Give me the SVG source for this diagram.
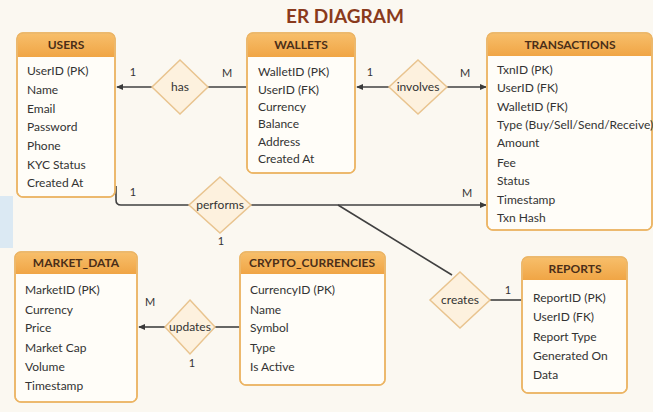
<svg xmlns="http://www.w3.org/2000/svg" width="653" height="412" viewBox="0 0 653 412">
<defs>
<linearGradient id="hg" x1="0" y1="0" x2="0" y2="1"><stop offset="0" stop-color="#f7be6a"/><stop offset="1" stop-color="#f0a545"/></linearGradient>
<marker id="ar" viewBox="0 0 8 8" refX="7" refY="4" markerWidth="7" markerHeight="7" orient="auto-start-reverse" markerUnits="userSpaceOnUse"><path d="M0,0.5 L8,4 L0,7.5 Z" fill="#3a3a3a"/></marker>
</defs>
<style>
.box{fill:#fffdf8;stroke:#ecb565;stroke-width:1.5}
.hdr{fill:url(#hg)}
.ht{font-family:Lato,'Liberation Sans',sans-serif;font-weight:bold;font-size:12px;fill:#4a2e18;text-anchor:middle}
.t{font-family:Lato,'Liberation Sans',sans-serif;font-size:12px;fill:#333}
.dia{fill:#fdf1de;stroke:#e9c48f;stroke-width:1.5}
.dt{font-family:Lato,'Liberation Sans',sans-serif;font-size:12px;fill:#333;text-anchor:middle}
.ln{fill:none;stroke:#404040;stroke-width:1.6}
.lb{font-family:Lato,'Liberation Sans',sans-serif;font-size:11px;fill:#333;text-anchor:middle}
</style>
<rect width="653" height="412" fill="#fbf8f1"/>
<rect x="0" y="196" width="13" height="52" fill="#dbe9f3"/>
<text x="345" y="23" font-family="Lato,'Liberation Sans',sans-serif" font-weight="bold" font-size="19" fill="#8a3a1c" text-anchor="middle">ER DIAGRAM</text>

<g id="connectors">
<path class="ln" d="M152,87 H117" marker-end="url(#ar)"/>
<path class="ln" d="M208,87 H247"/>
<path class="ln" d="M390,87 H357" marker-end="url(#ar)"/>
<path class="ln" d="M447,87 H486" marker-end="url(#ar)"/>
<path class="ln" d="M116,186 V200 Q116,205 121,205 H190"/>
<path class="ln" d="M250,205 H486" marker-end="url(#ar)"/>
<path class="ln" d="M338,205 L452,275"/>
<path class="ln" d="M490,300 H522"/>
<path class="ln" d="M165,327 H139" marker-end="url(#ar)"/>
<path class="ln" d="M215,327 H240"/>
<text class="lb" x="133" y="76">1</text>
<text class="lb" x="227" y="77">M</text>
<text class="lb" x="370" y="76">1</text>
<text class="lb" x="465" y="77">M</text>
<text class="lb" x="133" y="196">1</text>
<text class="lb" x="467" y="197">M</text>
<text class="lb" x="221" y="245">1</text>
<text class="lb" x="508" y="294">1</text>
<text class="lb" x="150" y="306">M</text>
<text class="lb" x="192" y="367">1</text>
</g>

<g id="has"><path class="dia" d="M180,60 L208,87 L180,114 L152,87 Z"/><text class="dt" x="180" y="91">has</text></g>
<g id="involves"><path class="dia" d="M418,60 L447,87 L418,114 L389,87 Z"/><text class="dt" x="418" y="91">involves</text></g>
<g id="performs"><path class="dia" d="M220,177 L251,205 L220,233 L189,205 Z"/><text class="dt" x="220" y="209">performs</text></g>
<g id="creates"><path class="dia" d="M460,272 L490,300 L460,328 L430,300 Z"/><text class="dt" x="460" y="304">creates</text></g>
<g id="updates"><path class="dia" d="M190,300 L215,327 L190,354 L165,327 Z"/><text class="dt" x="190" y="331">updates</text></g>

<g id="users">
<rect class="box" x="17" y="33" width="98" height="164" rx="6"/>
<path class="hdr" d="M17.75,57 V39 Q17.75,33.75 23,33.75 H109 Q114.25,33.75 114.25,39 V57 Z"/>
<rect class="box" x="17" y="33" width="98" height="164" rx="6" fill="none" style="fill:none"/>
<text class="ht" x="66" y="49">USERS</text>
<text class="t" x="27" y="75">UserID (PK)</text>
<text class="t" x="27" y="94">Name</text>
<text class="t" x="27" y="113">Email</text>
<text class="t" x="27" y="131">Password</text>
<text class="t" x="27" y="150">Phone</text>
<text class="t" x="27" y="169">KYC Status</text>
<text class="t" x="27" y="187">Created At</text>
</g>

<g id="wallets">
<rect class="box" x="247" y="33" width="108" height="140" rx="6"/>
<path class="hdr" d="M247.75,57 V39 Q247.75,33.75 253,33.75 H349 Q354.25,33.75 354.25,39 V57 Z"/>
<rect class="box" x="247" y="33" width="108" height="140" rx="6" style="fill:none"/>
<text class="ht" x="301" y="49">WALLETS</text>
<text class="t" x="258" y="76">WalletID (PK)</text>
<text class="t" x="258" y="94">UserID (FK)</text>
<text class="t" x="258" y="111">Currency</text>
<text class="t" x="258" y="128">Balance</text>
<text class="t" x="258" y="146">Address</text>
<text class="t" x="258" y="163">Created At</text>
</g>

<g id="transactions">
<rect class="box" x="487" y="33" width="165" height="197" rx="6"/>
<path class="hdr" d="M487.75,56 V39 Q487.75,33.75 493,33.75 H646 Q651.25,33.75 651.25,39 V56 Z"/>
<rect class="box" x="487" y="33" width="165" height="197" rx="6" style="fill:none"/>
<text class="ht" x="570" y="49">TRANSACTIONS</text>
<text class="t" x="497" y="74">TxnID (PK)</text>
<text class="t" x="497" y="92">UserID (FK)</text>
<text class="t" x="497" y="111">WalletID (FK)</text>
<text class="t" x="497" y="129">Type (Buy/Sell/Send/Receive)</text>
<text class="t" x="497" y="147">Amount</text>
<text class="t" x="497" y="167">Fee</text>
<text class="t" x="497" y="185">Status</text>
<text class="t" x="497" y="204">Timestamp</text>
<text class="t" x="497" y="222">Txn Hash</text>
</g>

<g id="market_data">
<rect class="box" x="15" y="252" width="122" height="150" rx="6"/>
<path class="hdr" d="M15.75,274 V258 Q15.75,252.75 21,252.75 H131 Q136.25,252.75 136.25,258 V274 Z"/>
<rect class="box" x="15" y="252" width="122" height="150" rx="6" style="fill:none"/>
<text class="ht" x="76" y="267">MARKET_DATA</text>
<text class="t" x="25" y="294">MarketID (PK)</text>
<text class="t" x="25" y="314">Currency</text>
<text class="t" x="25" y="332">Price</text>
<text class="t" x="25" y="352">Market Cap</text>
<text class="t" x="25" y="371">Volume</text>
<text class="t" x="25" y="390">Timestamp</text>
</g>

<g id="crypto_currencies">
<rect class="box" x="240" y="252" width="145" height="133" rx="6"/>
<path class="hdr" d="M240.75,274 V258 Q240.75,252.75 246,252.75 H379 Q384.25,252.75 384.25,258 V274 Z"/>
<rect class="box" x="240" y="252" width="145" height="133" rx="6" style="fill:none"/>
<text class="ht" x="312" y="267">CRYPTO_CURRENCIES</text>
<text class="t" x="250" y="294">CurrencyID (PK)</text>
<text class="t" x="250" y="314">Name</text>
<text class="t" x="250" y="332">Symbol</text>
<text class="t" x="250" y="352">Type</text>
<text class="t" x="250" y="371">Is Active</text>
</g>

<g id="reports">
<rect class="box" x="522" y="257" width="105" height="136" rx="6"/>
<path class="hdr" d="M522.75,280 V263 Q522.75,257.75 528,257.75 H621 Q626.25,257.75 626.25,263 V280 Z"/>
<rect class="box" x="522" y="257" width="105" height="136" rx="6" style="fill:none"/>
<text class="ht" x="575" y="273">REPORTS</text>
<text class="t" x="533" y="302">ReportID (PK)</text>
<text class="t" x="533" y="321">UserID (FK)</text>
<text class="t" x="533" y="341">Report Type</text>
<text class="t" x="533" y="360">Generated On</text>
<text class="t" x="533" y="379">Data</text>
</g>
</svg>
